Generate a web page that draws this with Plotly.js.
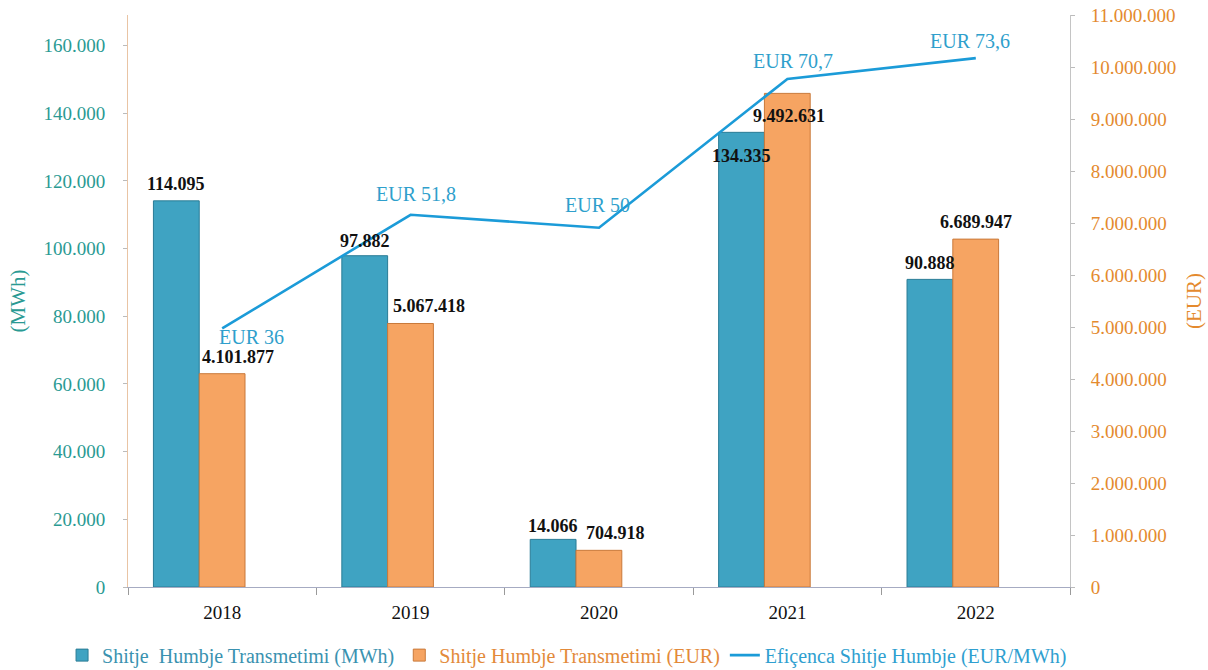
<!DOCTYPE html>
<html>
<head>
<meta charset="utf-8">
<script src="https://cdn.plot.ly/plotly-3.0.1.min.js"></script>
<style>html,body{margin:0;padding:0;background:#fff}#chart{width:1208px;height:670px}</style>
</head>
<body>
<div id="chart"></div>
<script>
// ---- data ----
const years = ['2018', '2019', '2020', '2021', '2022'];
const lossMWh = [114095, 97882, 14066, 134335, 90888];
const lossEUR = [4101877, 5067418, 704918, 9492631, 6689947];
const effEURperMWh = [36, 51.8, 50, 70.7, 73.6];
const lineLabels = ['EUR 36', 'EUR 51,8', 'EUR 50', 'EUR 70,7', 'EUR 73,6'];

// ---- layout tweaks (label placement) ----
const blueLabelShift = [17, 15, 13, -24, 16];
const orangeLabelShift = [17, 17, 17, -23, 17];
const orangeLabelX = [16, 18, 16, 2, 0];
const lineLabelDX = [29, 5, -2, 6, -6];
const lineLabelDY = [-9, 21, 23, 18, 17];

const fmt = v => v.toString().replace(/\B(?=(\d{3})+(?!\d))/g, '.');
const FONT = '"Liberation Serif", "Times New Roman", serif';
const TEAL = '#2a9a93';
const ORANGE = '#e48a2e';
const LBLUE = '#2f9fcc';
const BW = 0.243;

const traces = [
  {
    type: 'bar', x: years, y: lossMWh, yaxis: 'y',
    name: '<span style="color:#3a92b0">Shitje  Humbje Transmetimi (MWh)</span>',
    width: BW, offset: -0.365,
    marker: {color: '#3fa3c2', line: {color: '#2a7c96', width: 1}},
    hoverinfo: 'y'
  },
  {
    type: 'bar', x: years, y: lossEUR, yaxis: 'y2',
    name: '<span style="color:#e38a3a">Shitje Humbje Transmetimi (EUR)</span>',
    width: BW, offset: -0.122,
    marker: {color: '#f6a462', line: {color: '#c9793a', width: 1}},
    hoverinfo: 'y'
  },
  {
    type: 'scatter', mode: 'lines', x: years, y: effEURperMWh, yaxis: 'y3',
    name: '<span style="color:#2f9fd0">Efiçenca Shitje Humbje (EUR/MWh)</span>',
    line: {color: '#1b9bd8', width: 2.6}
  }
];

const ann = [];
years.forEach((yr, i) => {
  ann.push({x: i - 0.244, y: lossMWh[i], xref: 'x', yref: 'y', text: '<b>' + fmt(lossMWh[i]) + '</b>',
    showarrow: false, yanchor: 'middle', yshift: blueLabelShift[i],
    font: {family: FONT, size: 18, color: '#111'}});
  ann.push({x: i, y: lossEUR[i], xref: 'x', yref: 'y2', text: '<b>' + fmt(lossEUR[i]) + '</b>',
    showarrow: false, yanchor: 'middle', yshift: orangeLabelShift[i], xshift: orangeLabelX[i],
    font: {family: FONT, size: 18, color: '#111'}});
  ann.push({x: i, y: effEURperMWh[i], xref: 'x', yref: 'y3', text: lineLabels[i],
    showarrow: false, yanchor: 'middle', xshift: lineLabelDX[i], yshift: lineLabelDY[i],
    font: {family: FONT, size: 20, color: LBLUE}});
});

const layout = {
  width: 1208, height: 670,
  margin: {l: 128, r: 138, t: 15, b: 83, autoexpand: false},
  paper_bgcolor: '#fff', plot_bgcolor: '#fff',
  separators: ',.',
  barmode: 'overlay',
  showlegend: true,
  legend: {orientation: 'h', x: -0.07, xanchor: 'left', y: -0.085, yanchor: 'top',
    font: {family: FONT, size: 20}, itemwidth: 30, traceorder: 'normal'},
  font: {family: FONT},
  xaxis: {
    type: 'category', range: [-0.5, 4.5],
    showline: true, linecolor: '#a6abc2', linewidth: 1,
    ticks: 'outside', tickson: 'boundaries', ticklen: 7, tickcolor: '#9a9a9a',
    ticklabelstandoff: 8,
    tickfont: {family: FONT, size: 19, color: '#111'},
    showgrid: false, zeroline: false, fixedrange: true
  },
  yaxis: {
    range: [0, 169000], tickvals: [0, 20000, 40000, 60000, 80000, 100000, 120000, 140000, 160000],
    tickformat: ',d',
    showline: true, linecolor: '#e9c4a4', linewidth: 1,
    ticks: 'outside', ticklen: 4, tickcolor: '#bbb', ticklabelstandoff: 14,
    tickfont: {family: FONT, size: 19, color: TEAL},
    title: {text: '(MWh)', font: {family: FONT, size: 21, color: TEAL}, standoff: 12},
    showgrid: false, zeroline: false, automargin: false
  },
  yaxis2: {
    overlaying: 'y', side: 'right', range: [0, 11000000], dtick: 1000000,
    tickformat: ',d',
    showline: true, linecolor: '#c4c4c4', linewidth: 1,
    ticks: 'outside', ticklen: 4, tickcolor: '#bbb', ticklabelstandoff: 12,
    tickfont: {family: FONT, size: 19, color: ORANGE},
    title: {text: '(EUR)', font: {family: FONT, size: 21, color: ORANGE}, standoff: 11},
    showgrid: false, zeroline: false, automargin: false
  },
  yaxis3: {
    overlaying: 'y', side: 'left', range: [0, 79.6], visible: false,
    showgrid: false, zeroline: false
  },
  annotations: ann
};

Plotly.newPlot('chart', traces, layout, {displayModeBar: false, staticPlot: true});
</script>
</body>
</html>
